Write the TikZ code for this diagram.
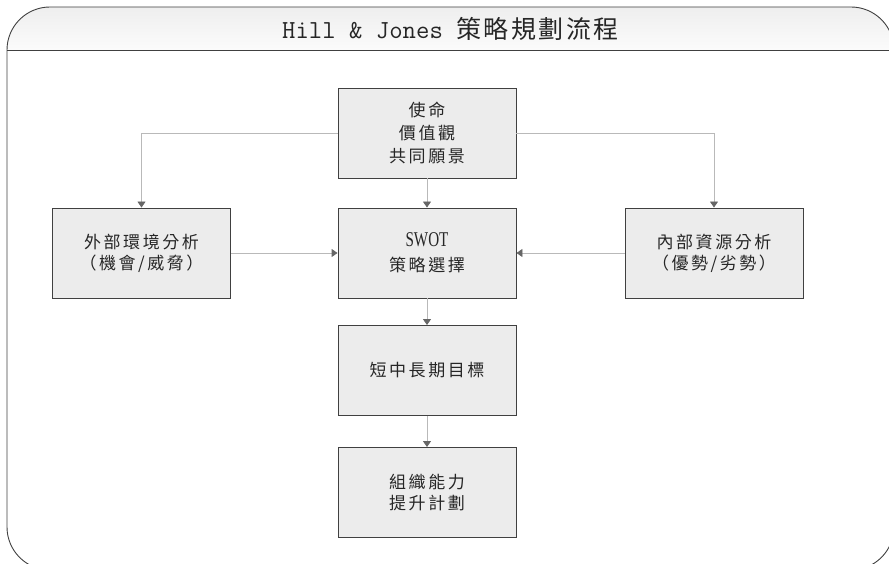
\documentclass[tikz,border=0pt]{standalone}
\usepackage{fontspec}
\usepackage{graphicx}
\usetikzlibrary{arrows.meta}
\newfontfamily\cjk[LetterSpace=15]{Noto Sans CJK TC}
\newfontfamily\cjkt[LetterSpace=10]{Noto Sans CJK TC}
\newfontfamily\serifl{Liberation Serif}
\begin{document}
\begin{tikzpicture}[x=1pt,y=-1pt,
  box/.style={draw=black!75, line width=0.9pt, fill=gray!15, minimum width=178pt,
    minimum height=90pt, inner sep=0pt, align=center, text=black!85,
    font=\cjk\fontsize{17}{22}\selectfont},
  conn/.style={draw=gray!55, line width=0.9pt,
    -{Triangle[width=8pt,length=6pt,color=black!60]}},
  frameline/.style={draw=black!75, line width=0.9pt}
]
\useasboundingbox (0,0) rectangle (889,564);
\begin{scope}
  \clip (0,0) rectangle (889,564);
  \begin{scope}
    \clip[rounded corners=43pt] (7,7) rectangle (894,570);
    \shade[top color=gray!15, bottom color=gray!3] (0,0) rectangle (900,50);
  \end{scope}
  \draw[frameline, rounded corners=43pt] (7,7) rectangle (894,570);
  \draw[frameline] (7,50) -- (894,50);
\end{scope}

\node[inner sep=0pt, text=black!85] (title) at (450.5,28.5)
  {\ttfamily\fontsize{26}{26}\selectfont Hill \& Jones\ {\cjkt\fontsize{25}{25}\selectfont 策略規劃流程}};

\node[box, font=\cjk\fontsize{17}{23}\selectfont] (mission) at (427,133) {使命\\價值觀\\共同願景};
\node[box] (swot) at (427,253) {{\serifl\fontsize{21}{21}\selectfont\scalebox{0.72}[1]{SWOT}}\\[3pt]策略選擇};
\node[box, font=\cjk\fontsize{17}{21}\selectfont] (ext) at (141.5,253) {外部環境分析\\（機會/威脅）};
\node[box, font=\cjk\fontsize{17}{21}\selectfont] (int) at (714,253) {內部資源分析\\（優勢/劣勢）};
\node[box] (goal) at (427,370.5) {短中長期目標};
\node[box, font=\cjk\fontsize{17}{21}\selectfont] (cap) at (427,492.5) {組織能力\\提升計劃};

\draw[conn] (mission.west) -| (ext.north);
\draw[conn] (mission.east) -| (int.north);
\draw[conn] (mission.south) -- (swot.north);
\draw[conn] (ext.east) -- (swot.west);
\draw[conn] (int.west) -- (swot.east);
\draw[conn] (swot.south) -- (goal.north);
\draw[conn] (goal.south) -- (cap.north);
\end{tikzpicture}
\end{document}
